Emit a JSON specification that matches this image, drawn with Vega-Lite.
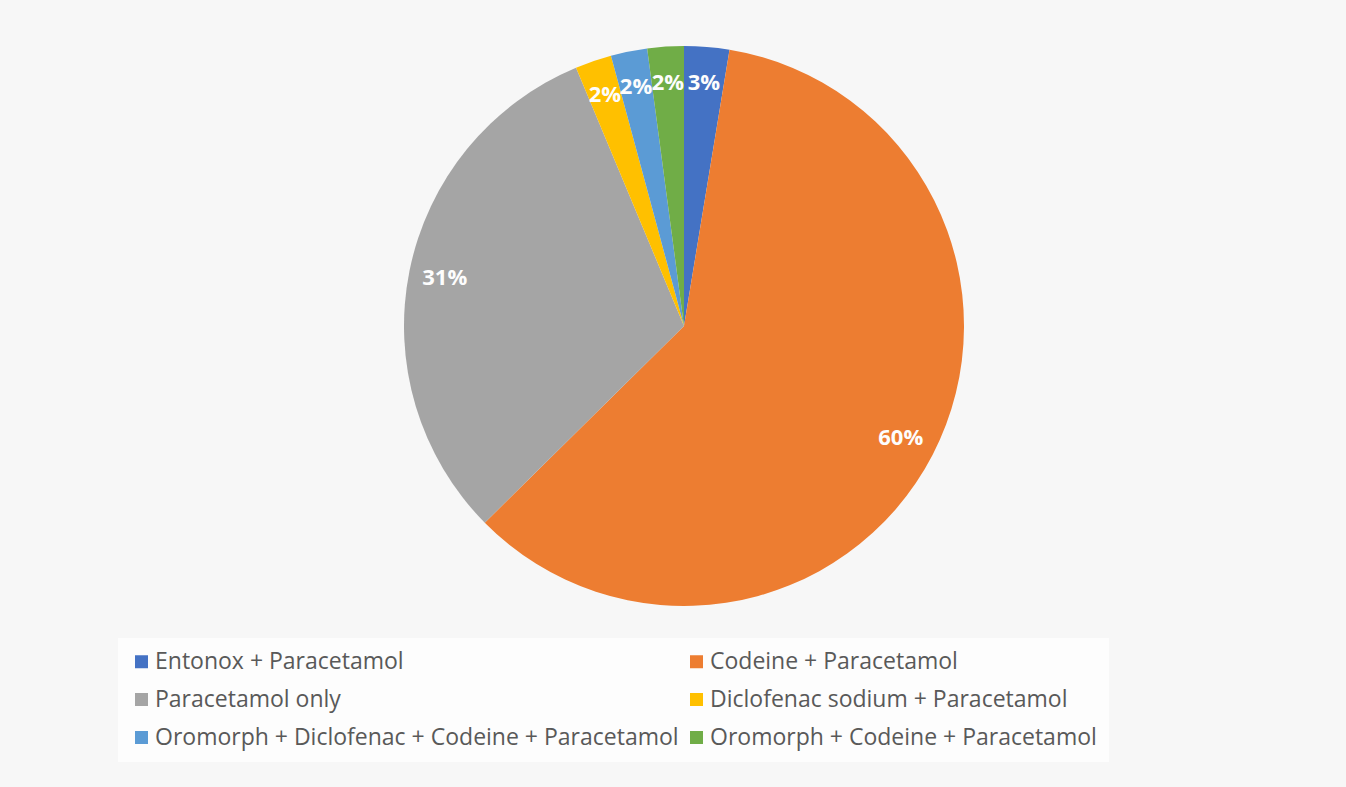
{
  "$schema": "https://vega.github.io/schema/vega-lite/v6.json",
  "autosize": {"type": "none"},
  "width": 1324,
  "height": 628,
  "padding": {"left": 22, "top": 12, "right": 0, "bottom": 147},
  "background": "#f7f7f7",
  "config": {"view": {"stroke": null}},
  "data": {
    "values": [
      {"treatment": "Entonox + Paracetamol", "share": 0.026, "idx": 1},
      {"treatment": "Codeine + Paracetamol", "share": 0.600, "idx": 2},
      {"treatment": "Paracetamol only", "share": 0.311, "idx": 3},
      {"treatment": "Diclofenac sodium + Paracetamol", "share": 0.021, "idx": 4},
      {"treatment": "Oromorph + Diclofenac + Codeine + Paracetamol", "share": 0.021, "idx": 5},
      {"treatment": "Oromorph + Codeine + Paracetamol", "share": 0.021, "idx": 6}
    ]
  },
  "encoding": {
    "theta": {"field": "share", "type": "quantitative", "stack": true},
    "order": {"field": "idx", "type": "quantitative"}
  },
  "layer": [
    {
      "mark": {"type": "arc", "outerRadius": 280},
      "encoding": {
        "color": {
          "field": "treatment",
          "type": "nominal",
          "scale": {
            "domain": ["Entonox + Paracetamol", "Codeine + Paracetamol", "Paracetamol only", "Diclofenac sodium + Paracetamol", "Oromorph + Diclofenac + Codeine + Paracetamol", "Oromorph + Codeine + Paracetamol"],
            "range": ["#4472C4", "#ED7D31", "#A5A5A5", "#FFC000", "#5B9BD5", "#70AD47"]
          },
          "legend": {
            "title": null,
            "orient": "none",
            "legendX": 96,
            "legendY": 626,
            "direction": "horizontal",
            "columns": 2,
            "columnPadding": 6,
            "rowPadding": 14,
            "symbolType": "square",
            "symbolSize": 169,
            "symbolStrokeWidth": 0,
            "labelFont": "Open Sans",
            "labelFontSize": 23,
            "labelColor": "#595959",
            "labelOffset": 2,
            "labelLimit": 800,
            "padding": 12,
            "fillColor": "#fdfdfd"
          }
        }
      }
    },
    {
      "mark": {"type": "text", "radius": 244, "font": "Open Sans", "fontWeight": "bold", "fontSize": 22, "color": "#fdfdfd"},
      "encoding": {
        "text": {"field": "share", "type": "quantitative", "format": ".0%"}
      }
    }
  ]
}
